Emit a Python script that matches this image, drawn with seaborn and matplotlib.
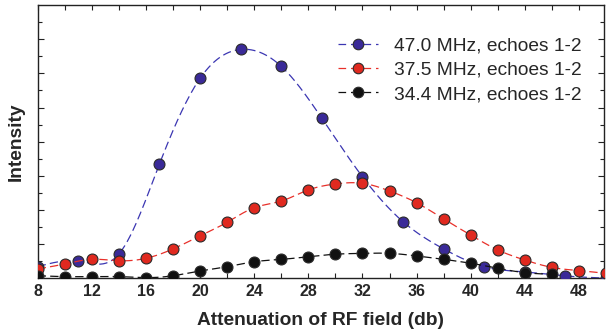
import numpy as np
import pandas as pd
import matplotlib
matplotlib.use("Agg")
import matplotlib.pyplot as plt
from matplotlib.lines import Line2D
import seaborn as sns

# Attenuation of RF field (db) and measured echo intensities (arb. units)
x_470 = [8, 11, 14, 17, 20, 23, 26, 29, 32, 35, 38, 41, 44, 47, 50]
y_470 = [0.69, 1.02, 1.43, 6.70, 11.71, 13.40, 12.41, 9.37, 5.95, 3.32, 1.73, 0.69, 0.38, 0.15, 0.02]

x_375 = [8, 10, 12, 14, 16, 18, 20, 22, 24, 26, 28, 30, 32, 34, 36, 38, 40, 42, 44, 46, 48, 50]
y_375 = [0.56, 0.85, 1.12, 1.04, 1.18, 1.73, 2.49, 3.29, 4.14, 4.53, 5.18, 5.53, 5.57, 5.12,
         4.43, 3.48, 2.54, 1.67, 1.08, 0.65, 0.46, 0.30]

x_344 = [8, 10, 12, 14, 16, 18, 20, 22, 24, 26, 28, 30, 32, 34, 36, 38, 40, 42, 44, 46]
y_344 = [0.16, 0.11, 0.11, 0.11, 0.05, 0.16, 0.44, 0.69, 0.98, 1.12, 1.27, 1.42, 1.47, 1.47,
         1.32, 1.12, 0.89, 0.60, 0.34, 0.25]

labels = ["47.0 MHz, echoes 1-2", "37.5 MHz, echoes 1-2", "34.4 MHz, echoes 1-2"]
x_ticks = [8, 12, 16, 20, 24, 28, 32, 36, 40, 44, 48]

line_colors = ["#3b36b2", "#e8302a", "#111111"]
fill_colors = ["#3a2a98", "#e0291f", "#111111"]


def natural_spline(x, y, xs):
    """Natural cubic spline through (x, y), evaluated at xs."""
    x = np.asarray(x, float)
    y = np.asarray(y, float)
    n = len(x)
    h = np.diff(x)
    A = np.zeros((n, n))
    r = np.zeros(n)
    A[0, 0] = A[-1, -1] = 1.0
    for i in range(1, n - 1):
        A[i, i - 1] = h[i - 1]
        A[i, i] = 2 * (h[i - 1] + h[i])
        A[i, i + 1] = h[i]
        r[i] = 3 * ((y[i + 1] - y[i]) / h[i] - (y[i] - y[i - 1]) / h[i - 1])
    c = np.linalg.solve(A, r)
    b = (y[1:] - y[:-1]) / h - h * (2 * c[:-1] + c[1:]) / 3
    d = (c[1:] - c[:-1]) / (3 * h)
    idx = np.clip(np.searchsorted(x, xs) - 1, 0, n - 2)
    t = xs - x[idx]
    return y[idx] + b[idx] * t + c[idx] * t ** 2 + d[idx] * t ** 3


sns.set_theme(style="ticks")
plt.rcParams["font.family"] = ["Liberation Sans", "DejaVu Sans"]
plt.rcParams["lines.scale_dashes"] = False

fig = plt.figure(figsize=(6.06, 3.33), dpi=100)
ax = fig.add_axes([0.0622, 0.1637, 0.9345, 0.8213])

series = [(x_470, y_470), (x_375, y_375), (x_344, y_344)]
handles = []
for k, (xv, yv) in enumerate(series):
    xs = np.linspace(xv[0], xv[-1], 400)
    curve = pd.DataFrame({"x": xs, "y": natural_spline(xv, yv, xs)})
    pts = pd.DataFrame({"x": xv, "y": yv})
    sns.lineplot(data=curve, x="x", y="y", ax=ax, color=line_colors[k], lw=0.9,
                 dashes=False, zorder=2 + 2 * k).lines[-1].set_dashes((6, 3))
    sns.scatterplot(data=pts, x="x", y="y", ax=ax, s=62, color=fill_colors[k],
                    edgecolor="#2a2a2a", linewidth=0.8, zorder=3 + 2 * k, clip_on=True)
    handles.append(Line2D([], [], color=line_colors[k], lw=0.9, dashes=(5.5, 3.5),
                          marker="o", markersize=7.6, markerfacecolor=fill_colors[k],
                          markeredgecolor="#2a2a2a", markeredgewidth=0.8))

ax.set_xlim(8, 49.85)
ax.set_ylim(0, 16)
ax.set_xticks(x_ticks)
ax.set_xticks(np.arange(10, 50, 4), minor=True)
ax.set_yticks(np.arange(2, 16, 2))
ax.set_yticks(np.arange(1, 16, 2), minor=True)
ax.set_yticklabels([])
for lbl in ax.get_xticklabels():
    lbl.set_fontweight("bold")
ax.tick_params(axis="x", which="both", direction="in", length=3.3, width=0.8,
               top=True, labelsize=11.5, pad=4, color="#222222")
ax.tick_params(axis="y", which="major", direction="in", length=4.2, width=0.8,
               right=True, color="#222222")
ax.tick_params(axis="y", which="minor", direction="in", length=3.0, width=0.8,
               right=True, color="#222222")
for sp in ax.spines.values():
    sp.set_visible(True)
    sp.set_linewidth(1.0)
    sp.set_color("#222222")

ax.set_xlabel("Attenuation of RF field (db)", fontsize=13.8, fontweight="bold", labelpad=9)
ax.set_ylabel("Intensity", fontsize=13.8, fontweight="bold", labelpad=6)

fig.legend(handles, labels, loc="upper left", bbox_to_anchor=(338 / 606, 1 - 37 / 333),
           frameon=False, fontsize=13.8, handlelength=2.1, handletextpad=0.8,
           labelspacing=0.36, borderpad=0, borderaxespad=0)

fig.savefig("out.png", dpi=100)
